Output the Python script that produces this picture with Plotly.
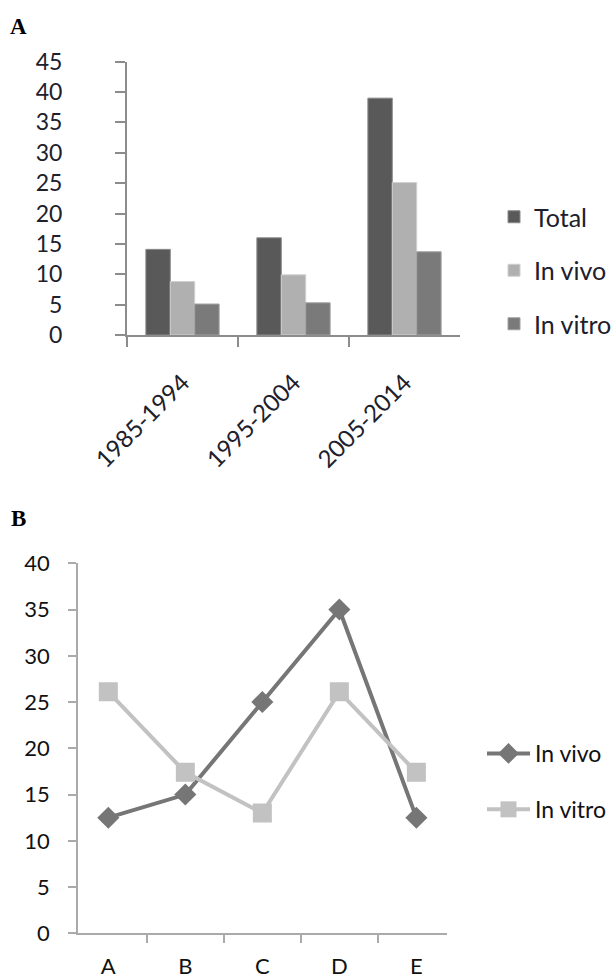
import plotly.graph_objects as go

# ---- Panel A data ----
periods = ["1985-1994", "1995-2004", "2005-2014"]
total = [14.1, 16.0, 39.0]
in_vivo_a = [8.8, 9.9, 25.1]
in_vitro_a = [5.1, 5.3, 13.7]
ticks_a = [0, 5, 10, 15, 20, 25, 30, 35, 40, 45]

# ---- Panel B data ----
cats_b = ["A", "B", "C", "D", "E"]
in_vivo_b = [12.5, 15.0, 25.0, 35.0, 12.5]
in_vitro_b = [26.1, 17.4, 13.0, 26.1, 17.4]
ticks_b = [0, 5, 10, 15, 20, 25, 30, 35, 40]

FONT = "Lato"
TXT = "#20202c"

W, H = 616.0, 979.0
def X(p):
    return p / W
def Y(p):
    return 1 - p / H

fig = go.Figure()

fig.add_trace(go.Bar(x=periods, y=total, name="Total",
                     marker=dict(color="#595959", line=dict(color="#8a8a8a", width=1)),
                     xaxis="x", yaxis="y", legend="legend", legendgroup="t"))
fig.add_trace(go.Bar(x=periods, y=in_vivo_a, name="In vivo",
                     marker=dict(color="#b0b0b0", line=dict(color="#d0d0d0", width=1)),
                     xaxis="x", yaxis="y", legend="legend", legendgroup="v"))
fig.add_trace(go.Bar(x=periods, y=in_vitro_a, name="In vitro",
                     marker=dict(color="#7a7a7a", line=dict(color="#a0a0a0", width=1)),
                     xaxis="x", yaxis="y", legend="legend", legendgroup="w"))

fig.add_trace(go.Scatter(x=cats_b, y=in_vivo_b, name="In vivo", mode="lines+markers",
                         line=dict(color="#767676", width=4),
                         marker=dict(symbol="diamond", size=17, color="#767676"),
                         xaxis="x2", yaxis="y2", legend="legend2", legendgroup="b1"))
fig.add_trace(go.Scatter(x=cats_b, y=in_vitro_b, name="In vitro", mode="lines+markers",
                         line=dict(color="#c2c2c2", width=4),
                         marker=dict(symbol="square", size=19, color="#c2c2c2"),
                         xaxis="x2", yaxis="y2", legend="legend2", legendgroup="b2"))

fig.update_layout(
    width=int(W), height=int(H),
    margin=dict(l=0, r=0, t=0, b=0, autoexpand=False),
    paper_bgcolor="white", plot_bgcolor="white",
    barmode="group", bargap=0.34, bargroupgap=0,
    showlegend=True,
    font=dict(family=FONT, color=TXT),
    xaxis=dict(domain=[X(127), X(460)], anchor="y", type="category", automargin=False,
               showline=True, linecolor="#8c8c8c", linewidth=2,
               ticks="outside", tickson="boundaries", ticklen=10, tickcolor="#8c8c8c", tickwidth=2,
               tickangle=-45, tickfont=dict(size=24, color=TXT, family=FONT),
               showgrid=False, zeroline=False, ticklabelstandoff=22),
    yaxis=dict(domain=[Y(335), Y(61.7)], anchor="x", range=[0, 45], automargin=False,
               tickvals=ticks_a, showline=True, linecolor="#8c8c8c", linewidth=2,
               ticks="outside", ticklen=10, tickcolor="#8c8c8c", tickwidth=2,
               tickfont=dict(size=23, color=TXT, family=FONT),
               showgrid=False, zeroline=False, ticklabelstandoff=48),
    xaxis2=dict(domain=[X(78), X(446.7)], anchor="y2", type="category", automargin=False,
                showline=True, linecolor="#aaaaaa", linewidth=1.5,
                ticks="outside", tickson="boundaries", ticklen=8, tickcolor="#aaaaaa", tickwidth=1.5,
                tickfont=dict(size=22, color="#111111", family=FONT),
                showgrid=False, zeroline=False, ticklabelstandoff=13),
    yaxis2=dict(domain=[Y(933.3), Y(563.3)], anchor="x2", range=[0, 40], automargin=False,
                tickvals=ticks_b, showline=True, linecolor="#aaaaaa", linewidth=1.5,
                ticks="outside", ticklen=8, tickcolor="#aaaaaa", tickwidth=1.5,
                tickfont=dict(size=22, color="#111111", family=FONT),
                showgrid=False, zeroline=False, ticklabelstandoff=14),
    legend=dict(x=X(494), y=Y(194), xanchor="left", yanchor="top",
                font=dict(size=25, color=TXT, family=FONT), tracegroupgap=18,
                itemwidth=30, bgcolor="rgba(0,0,0,0)", traceorder="grouped"),
    legend2=dict(x=X(482), y=Y(732), xanchor="left", yanchor="top",
                 font=dict(size=23, color="#111111", family=FONT), tracegroupgap=23,
                 itemwidth=43, bgcolor="rgba(0,0,0,0)", traceorder="grouped"),
    annotations=[
        dict(text="<b>A</b>", x=X(8), y=Y(12), xref="paper", yref="paper",
             xanchor="left", yanchor="top", showarrow=False,
             font=dict(family="Liberation Serif", size=23, color="black")),
        dict(text="<b>B</b>", x=X(9), y=Y(504), xref="paper", yref="paper",
             xanchor="left", yanchor="top", showarrow=False,
             font=dict(family="Liberation Serif", size=23, color="black")),
    ],
)

# remove the default 8px page margin so the figure fills the window exactly
fig.write_html("out.html", config={"displayModeBar": False},
               post_script="document.body.style.margin='0';")
